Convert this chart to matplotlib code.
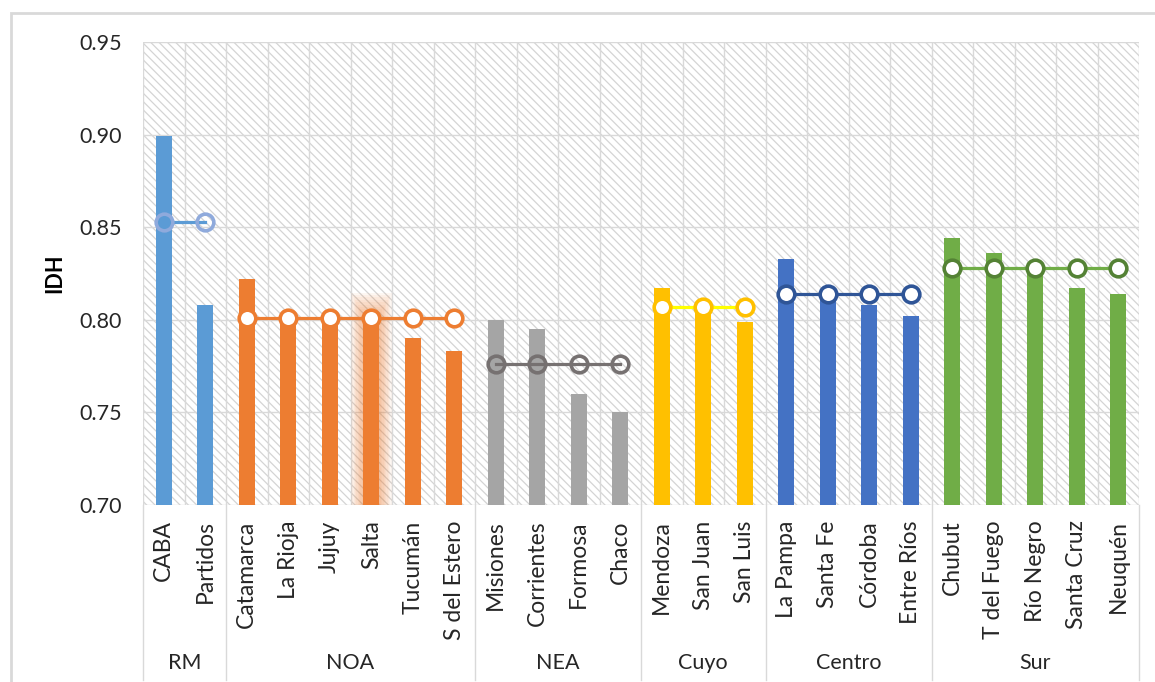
import numpy as np
import matplotlib.pyplot as plt
from matplotlib.patches import Rectangle
from matplotlib.lines import Line2D
import matplotlib.transforms as mtransforms

plt.rcParams['font.family'] = ['Lato', 'DejaVu Sans']
plt.rcParams['hatch.color'] = '#d4d4d4'
plt.rcParams['hatch.linewidth'] = 0.9

# datos por región
regiones = ['RM', 'NOA', 'NEA', 'Cuyo', 'Centro', 'Sur']
provincias = [
    ['CABA', 'Partidos'],
    ['Catamarca', 'La Rioja', 'Jujuy', 'Salta', 'Tucumán', 'S del Estero'],
    ['Misiones', 'Corrientes', 'Formosa', 'Chaco'],
    ['Mendoza', 'San Juan', 'San Luis'],
    ['La Pampa', 'Santa Fe', 'Córdoba', 'Entre Ríos'],
    ['Chubut', 'T del Fuego', 'Río Negro', 'Santa Cruz', 'Neuquén'],
]
idh = [
    [0.899, 0.808],
    [0.822, 0.801, 0.802, 0.803, 0.790, 0.783],
    [0.800, 0.795, 0.760, 0.750],
    [0.817, 0.807, 0.799],
    [0.833, 0.814, 0.808, 0.802],
    [0.844, 0.836, 0.829, 0.817, 0.814],
]
idh_region = [0.853, 0.801, 0.776, 0.807, 0.814, 0.828]

color_barra = ['#5B9BD5', '#ED7D31', '#A5A5A5', '#FFC000', '#4472C4', '#70AD47']
color_linea = ['#5B9BD5', '#ED7D31', '#767171', '#FFFF00', '#2F5597', '#70AD47']
color_marca = ['#8FAADC', '#ED7D31', '#767171', '#FFC000', '#2F5597', '#548235']
relleno_marca = ['none', 'white', 'none', 'white', 'white', 'white']

fig = plt.figure(figsize=(11.55, 6.82), dpi=100)
ax = fig.add_axes([143 / 1155, 177 / 682, 996 / 1155, 463 / 682])

# marco exterior del gráfico
fig.patches.append(Rectangle((11 / 1155, -0.1), 1.2, 1.1 - 13 / 682,
                             transform=fig.transFigure, fill=False,
                             edgecolor='#d9d9d9', linewidth=2, zorder=0))

# fondo rayado
ax.add_patch(Rectangle((0, 0), 1, 1, transform=ax.transAxes, facecolor='white',
                       hatch='\\\\\\\\', edgecolor='#d4d4d4', linewidth=0, zorder=0))

nombres = [p for grupo in provincias for p in grupo]
n = len(nombres)
x0 = 0
for r, reg in enumerate(regiones):
    xs = np.arange(x0, x0 + len(provincias[r]))
    if reg == 'NOA':
        # resaltado de Salta
        i = provincias[r].index('Salta')
        v = idh[r][i]
        for k in range(10):
            ax.bar(xs[i], v - 0.70 + 0.0013 * k, bottom=0.70, width=0.40 + 0.065 * k,
                   color='#ED7D31', alpha=0.06, linewidth=0, zorder=1.5)
    ax.bar(xs, np.array(idh[r]) - 0.70, bottom=0.70, width=0.39,
           color=color_barra[r], zorder=2)
    ax.plot(xs, [idh_region[r]] * len(xs), color=color_linea[r], lw=2.3,
            marker='o', ms=12, mew=2.6, mec=color_marca[r],
            mfc=relleno_marca[r], zorder=3)
    x0 += len(xs)

ax.set_xlim(-0.5, n - 0.5)
ax.set_ylim(0.70, 0.95)
ax.set_yticks(np.arange(0.70, 0.951, 0.05))
ax.set_yticklabels([f'{t:.2f}' for t in np.arange(0.70, 0.951, 0.05)], fontsize=15.5,
                   color='#262626')
ax.set_xticks(np.arange(n))
ax.set_xticklabels(nombres, rotation=90, fontsize=16.5, color='#262626')
ax.tick_params(axis='both', length=0)
ax.tick_params(axis='x', pad=11)
ax.tick_params(axis='y', pad=15)
ax.set_ylabel('IDH', fontsize=15.5, fontweight='bold')
ax.yaxis.set_label_coords(-0.078, 0.5)

# cuadrícula
for yv in np.arange(0.70, 0.951, 0.05):
    ax.axhline(yv, color='#d9d9d9', lw=1, zorder=1)
for xv in np.arange(-0.5, n, 1):
    ax.axvline(xv, color='#d9d9d9', lw=1, zorder=1)
for s in ax.spines.values():
    s.set_visible(False)

# separadores y etiquetas de región
trans = mtransforms.blended_transform_factory(ax.transData, ax.transAxes)
limites = np.cumsum([0] + [len(g) for g in provincias]) - 0.5
for b in limites:
    ax.add_line(Line2D([b, b], [0, -0.378], transform=trans, color='#d9d9d9',
                       lw=1, clip_on=False))
for r, reg in enumerate(regiones):
    ax.text((limites[r] + limites[r + 1]) / 2, -0.341, reg, transform=trans,
            ha='center', va='center', fontsize=15.5, color='#262626')

fig.savefig('out.png', dpi=100)
